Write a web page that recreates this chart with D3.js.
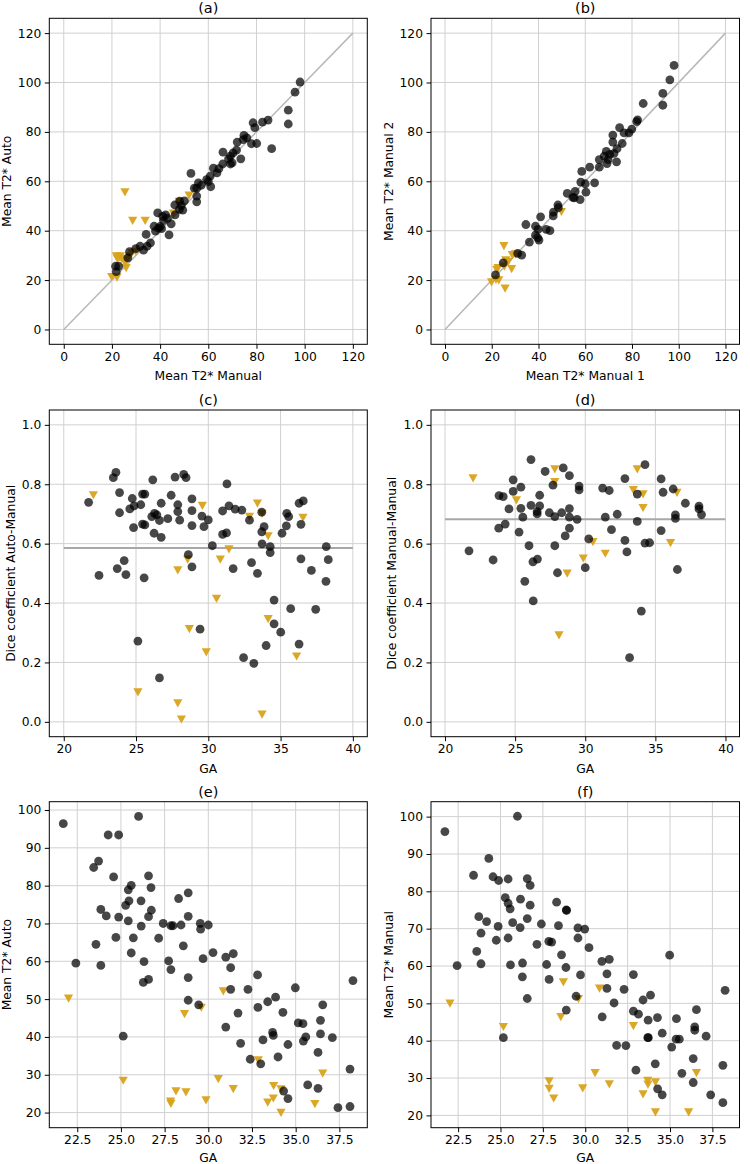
<!DOCTYPE html>
<html><head><meta charset="utf-8">
<script src="https://cdn.jsdelivr.net/npm/d3@7"></script>
<style>body{margin:0;background:#fff}svg{display:block}text{font-family:"DejaVu Sans",sans-serif;fill:#000}</style>
</head><body><svg id="c" width="750" height="1164"></svg>
<script>
// ---------- data ----------
// (a) Mean T2* Manual (x) vs Mean T2* Auto (y)
const aDots = [[98.1,100.2],[96.0,96.1],[93.2,88.8],[93.2,83.2],[86.3,73.2],[84.8,84.8],[82.5,84.0],[78.6,83.7],[79.3,81.7],[80.1,75.3],[77.9,75.2],[74.8,78.6],[76.0,77.6],[74.5,76.9],[72.0,75.9],[73.5,69.1],[71.7,72.6],[70.3,71.5],[69.2,70.2],[68.4,69.1],[69.9,67.5],[66.1,71.8],[69.2,67.0],[66.0,67.0],[64.4,65.1],[62.1,65.3],[63.6,63.4],[60.8,62.1],[59.3,60.7],[60.0,59.9],[61.0,57.8],[57.1,58.4],[55.9,59.4],[55.2,57.2],[54.2,57.2],[52.8,63.2],[55.2,51.7],[55.2,54.0],[50.1,52.1],[48.1,52.0],[46.1,50.4],[48.8,50.2],[49.4,48.3],[48.0,48.6],[46.2,46.4],[39.0,47.2],[41.1,45.8],[42.3,46.4],[43.0,45.0],[41.4,44.1],[44.6,42.8],[37.5,41.8],[39.3,41.0],[40.0,41.7],[40.6,40.8],[38.1,39.8],[34.2,38.5],[43.7,38.3],[36.0,35.1],[34.6,33.7],[31.7,33.7],[33.1,32.1],[27.3,31.5],[22.8,25.6],[21.5,25.6],[21.8,23.4],[26.6,29.0],[29.9,32.7]];
const aTris = [[25.4,55.6],[28.6,44.1],[33.8,44.1],[52.0,54.3],[47.9,51.8],[45.5,47.0],[29.8,31.6],[28.3,31.0],[23.2,29.3],[22.3,28.6],[24.1,28.6],[25.5,27.0],[25.9,25.0],[19.9,21.3],[22.1,21.1],[23.4,29.7],[21.8,29.7],[27.2,29.7],[25.8,28.3]];
// (b) Mean T2* Manual 1 (x) vs Mean T2* Manual 2 (y)
const bDots = [[98.0,106.9],[96.2,101.1],[93.2,95.6],[93.2,90.8],[84.8,91.5],[82.4,84.9],[82.0,84.2],[79.9,81.1],[74.7,81.7],[78.7,79.6],[76.6,79.6],[71.8,78.7],[75.8,75.3],[71.8,75.9],[73.6,73.2],[72.3,71.3],[69.0,72.1],[70.5,70.9],[68.1,70.2],[69.8,68.8],[73.4,67.9],[69.3,67.2],[66.0,68.8],[66.0,65.7],[61.9,65.7],[58.5,64.0],[64.0,59.4],[58.1,59.7],[60.0,59.0],[60.3,55.6],[52.3,55.1],[55.7,55.9],[54.7,53.5],[55.3,53.3],[57.8,52.6],[48.3,50.4],[48.5,49.3],[46.3,46.0],[46.4,47.5],[40.9,45.6],[34.6,42.5],[38.7,41.8],[39.8,40.5],[43.3,40.5],[44.9,40.0],[38.7,38.2],[39.7,37.1],[40.2,36.2],[36.1,35.4],[31.1,30.8],[32.8,30.1],[21.6,22.1],[24.9,27.0]];
const bTris = [[49.8,47.7],[25.2,33.9],[28.8,30.2],[30.2,30.5],[26.0,28.1],[27.1,27.5],[28.5,24.6],[22.7,25.0],[22.1,24.3],[19.9,19.2],[23.0,20.0],[21.8,20.2],[25.7,16.7],[25.4,25.6]];
// (c) GA (x) vs Dice coefficient Auto-Manual (y)
const cDots = [[21.72,0.739],[22.44,0.493],[23.43,0.822],[23.61,0.840],[23.86,0.772],[23.86,0.704],[23.70,0.516],[24.18,0.543],[24.30,0.496],[24.57,0.717],[24.74,0.752],[24.87,0.727],[24.83,0.654],[25.33,0.731],[25.45,0.767],[25.61,0.767],[25.45,0.666],[25.61,0.663],[25.56,0.485],[25.13,0.272],[26.16,0.815],[26.09,0.691],[26.28,0.702],[26.44,0.697],[26.25,0.635],[26.62,0.678],[26.74,0.736],[26.74,0.621],[26.62,0.148],[27.20,0.684],[27.43,0.763],[27.70,0.824],[27.89,0.731],[27.89,0.708],[28.02,0.679],[28.30,0.833],[28.46,0.822],[28.62,0.563],[28.87,0.751],[28.87,0.711],[28.87,0.661],[28.87,0.522],[29.43,0.312],[29.56,0.693],[29.70,0.657],[30.00,0.680],[30.28,0.593],[30.99,0.710],[30.99,0.631],[31.26,0.636],[31.29,0.801],[31.43,0.727],[31.72,0.516],[31.86,0.716],[32.32,0.713],[32.85,0.679],[32.99,0.536],[32.44,0.216],[33.15,0.197],[33.40,0.500],[33.70,0.706],[33.70,0.640],[33.72,0.599],[33.86,0.657],[34.28,0.590],[34.28,0.570],[34.00,0.257],[34.55,0.410],[34.55,0.330],[35.01,0.302],[35.10,0.635],[35.43,0.702],[35.56,0.691],[35.40,0.660],[35.70,0.381],[36.28,0.736],[36.41,0.549],[36.41,0.665],[36.57,0.744],[36.28,0.262],[37.13,0.510],[37.43,0.379],[38.16,0.590],[38.30,0.546],[38.14,0.473]];
const cTris = [[22.05,0.764],[29.59,0.728],[32.85,0.691],[33.40,0.736],[33.72,0.701],[34.14,0.626],[36.55,0.688],[31.43,0.582],[28.57,0.547],[30.83,0.547],[27.89,0.511],[30.57,0.415],[28.69,0.313],[34.14,0.347],[29.86,0.235],[36.11,0.221],[25.13,0.100],[27.89,0.063],[28.14,0.009],[33.72,0.025]];
const cMean = 0.585;
// (d) GA (x) vs Dice coefficient Manual-Manual (y)
const dDots = [[21.71,0.576],[23.43,0.545],[23.85,0.762],[24.15,0.758],[23.83,0.652],[24.29,0.666],[24.56,0.717],[24.86,0.815],[24.86,0.776],[25.41,0.790],[25.41,0.719],[25.55,0.689],[25.28,0.639],[25.69,0.473],[26.13,0.883],[26.13,0.729],[25.99,0.593],[26.27,0.539],[26.29,0.407],[26.57,0.708],[26.57,0.700],[26.75,0.763],[26.75,0.727],[26.59,0.548],[27.14,0.843],[27.44,0.704],[27.70,0.797],[27.83,0.691],[27.83,0.593],[28.02,0.502],[28.43,0.855],[28.32,0.704],[28.57,0.626],[28.87,0.829],[28.87,0.718],[28.87,0.689],[28.87,0.652],[29.56,0.794],[29.56,0.781],[29.42,0.682],[30.25,0.616],[30.00,0.519],[31.24,0.787],[31.43,0.689],[31.71,0.779],[31.87,0.647],[32.28,0.699],[32.83,0.819],[32.83,0.611],[32.97,0.572],[33.16,0.216],[33.71,0.767],[33.71,0.675],[34.26,0.866],[34.00,0.373],[34.26,0.602],[34.59,0.603],[35.41,0.818],[35.55,0.773],[35.41,0.644],[36.27,0.784],[36.43,0.697],[36.43,0.685],[36.57,0.513],[37.14,0.736],[38.11,0.726],[38.11,0.717],[38.29,0.698]];
const dTris = [[22.00,0.821],[25.09,0.747],[27.83,0.851],[27.83,0.808],[28.71,0.500],[28.13,0.292],[29.86,0.551],[30.55,0.606],[31.43,0.567],[33.43,0.781],[33.71,0.851],[34.12,0.767],[34.12,0.721],[36.08,0.603],[36.54,0.772]];
const dMean = 0.682;
// (e) GA (x) vs Mean T2* Auto (y)
const eDots = [[21.7,96.4],[22.42,59.5],[26.01,98.3],[24.27,93.4],[24.87,93.4],[23.72,86.5],[23.44,84.8],[24.58,82.3],[26.58,82.6],[25.59,80.1],[25.42,78.9],[26.72,79.5],[28.85,78.1],[28.3,76.6],[26.15,76.0],[25.46,76.0],[25.27,74.8],[23.85,73.7],[26.74,73.5],[24.16,72.0],[24.87,71.7],[26.58,71.8],[28.85,71.9],[25.42,70.7],[27.42,70.0],[26.16,69.3],[27.86,69.4],[27.98,69.4],[28.44,69.6],[29.54,70.0],[30.0,69.6],[29.56,68.5],[24.71,66.3],[25.71,66.2],[27.16,66.1],[28.57,64.1],[23.57,64.5],[30.27,62.3],[31.43,62.0],[31.0,61.1],[25.59,62.2],[29.7,60.7],[27.73,60.1],[26.32,59.9],[23.85,58.9],[27.86,57.8],[31.28,58.3],[28.85,55.7],[26.58,55.2],[26.28,54.4],[32.82,56.4],[38.28,54.9],[34.98,53.0],[31.28,52.6],[32.27,52.6],[33.85,50.5],[33.4,49.3],[28.85,49.7],[29.45,48.5],[36.55,48.5],[32.84,47.8],[34.27,46.5],[31.7,46.3],[36.42,44.4],[35.15,43.7],[35.42,43.5],[31.0,42.6],[33.68,41.2],[33.72,40.4],[36.42,40.8],[25.13,40.2],[37.1,39.8],[35.58,40.0],[35.44,38.9],[31.85,38.3],[34.56,38.0],[33.13,39.2],[33.99,34.7],[32.4,34.1],[33.0,32.9],[36.28,35.9],[38.11,31.5],[35.69,27.3],[36.28,26.4],[34.31,25.7],[34.56,23.7],[37.42,21.3],[38.11,21.6]];
const eTris = [[22.0,50.2],[25.13,28.5],[28.15,25.7],[28.72,25.4],[27.84,23.0],[27.86,22.4],[28.64,46.1],[29.6,47.8],[30.86,52.1],[30.57,28.9],[29.87,23.3],[31.43,26.3],[32.86,33.9],[33.4,22.7],[33.74,27.1],[33.72,23.8],[34.16,26.2],[34.16,20.0],[36.1,22.3],[36.55,30.4]];
// (f) GA (x) vs Mean T2* Manual (y)
const fDots = [[21.72,96.0],[22.44,60.1],[26.0,100.1],[24.31,88.8],[23.41,84.3],[24.56,83.9],[24.89,82.9],[25.45,83.3],[26.58,83.4],[26.75,81.6],[25.28,78.3],[26.18,77.9],[25.45,76.8],[25.57,75.3],[26.75,76.3],[28.31,77.1],[28.88,75.0],[28.9,74.9],[23.72,73.2],[24.18,71.9],[26.58,72.7],[25.72,71.6],[27.41,71.25],[28.42,70.8],[24.86,70.6],[26.16,70.3],[23.85,68.8],[29.57,70.2],[29.97,69.9],[29.57,67.5],[25.45,67.5],[24.75,66.9],[27.85,66.6],[28.02,66.4],[27.15,65.8],[30.22,64.9],[23.6,63.9],[28.6,63.0],[23.85,60.6],[25.59,60.3],[26.3,60.8],[27.72,60.4],[28.86,59.6],[30.98,61.25],[31.42,61.8],[34.98,62.9],[29.72,57.6],[26.29,57.1],[27.87,56.4],[31.28,57.9],[32.84,57.7],[31.28,54.0],[32.29,53.75],[38.25,53.5],[29.46,51.9],[26.58,51.3],[33.41,50.9],[33.85,52.2],[31.7,50.1],[28.88,48.2],[32.84,47.9],[33.14,47.1],[36.56,48.3],[31.0,46.4],[33.71,45.5],[34.26,46.2],[35.38,45.9],[36.46,43.7],[36.46,42.8],[34.54,42.0],[37.13,41.2],[33.69,40.8],[33.72,40.8],[35.36,40.4],[35.55,40.4],[25.17,40.8],[31.85,38.75],[32.4,38.7],[35.1,38.3],[36.37,35.2],[34.13,33.8],[38.12,33.4],[32.99,32.1],[35.7,31.25],[36.37,28.8],[34.27,27.1],[34.54,25.5],[37.4,25.5],[38.12,23.4]];
const fTris = [[22.02,50.0],[25.17,43.75],[28.71,55.7],[28.56,46.4],[29.6,51.25],[30.84,54.0],[32.84,44.0],[30.58,31.4],[29.85,27.3],[27.87,29.2],[27.87,27.2],[28.14,24.6],[31.42,28.4],[33.41,25.7],[33.69,29.3],[33.7,28.3],[34.14,28.9],[34.14,20.9],[36.1,20.9],[36.56,31.4]];

// tick labels
const t2Ticks = [0,20,40,60,80,100,120];
const gaTicksCD = [20,25,30,35,40];
const diceTicks = [0.0,0.2,0.4,0.6,0.8,1.0];
const gaTicksEF = [22.5,25.0,27.5,30.0,32.5,35.0,37.5];
const t2TicksEF = [20,30,40,50,60,70,80,90,100];

// ---------- drawing ----------
const svg = d3.select("#c");
const FS = 12.3;
const TRI = "#D9A21B";

function panel(o){
  const x = d3.scaleLinear().domain(o.xd).range([o.l,o.r]);
  const y = d3.scaleLinear().domain(o.yd).range([o.b,o.t]);
  const g = svg.append("g");
  // grid
  g.selectAll(".gx").data(o.xt).join("line")
    .attr("x1",d=>x(d)).attr("x2",d=>x(d)).attr("y1",o.t).attr("y2",o.b)
    .attr("stroke","#d0d0d0").attr("stroke-width",1);
  g.selectAll(".gy").data(o.yt).join("line")
    .attr("y1",d=>y(d)).attr("y2",d=>y(d)).attr("x1",o.l).attr("x2",o.r)
    .attr("stroke","#d0d0d0").attr("stroke-width",1);
  // reference lines
  if(o.diag){
    g.append("line").attr("x1",x(0)).attr("y1",y(0)).attr("x2",x(120)).attr("y2",y(120))
      .attr("stroke","#b8b8b8").attr("stroke-width",1.5);
  }
  if(o.mean!==undefined){
    g.append("line").attr("x1",x(20)).attr("x2",x(40)).attr("y1",y(o.mean)).attr("y2",y(o.mean))
      .attr("stroke","#a8a8a8").attr("stroke-width",2);
  }
  // triangles
  const tri = "M-4.6,-3.8L4.6,-3.8L0,4.4Z";
  g.selectAll(".tri").data(o.tris).join("path")
    .attr("d",tri).attr("transform",d=>`translate(${x(d[0])},${y(d[1])})`)
    .attr("fill",TRI).attr("fill-opacity",0.95);
  // dots
  g.selectAll(".dot").data(o.dots).join("circle")
    .attr("cx",d=>x(d[0])).attr("cy",d=>y(d[1])).attr("r",4.4)
    .attr("fill","#000").attr("fill-opacity",0.72);
  // frame
  g.append("rect").attr("x",o.l).attr("y",o.t).attr("width",o.r-o.l).attr("height",o.b-o.t)
    .attr("fill","none").attr("stroke","#000").attr("stroke-width",1);
  // axes
  const xa = g.append("g").attr("transform",`translate(0,${o.b})`)
    .call(d3.axisBottom(x).tickValues(o.xt).tickFormat(o.xf).tickSize(4.5).tickPadding(3.5));
  const ya = g.append("g").attr("transform",`translate(${o.l},0)`)
    .call(d3.axisLeft(y).tickValues(o.yt).tickFormat(o.yf).tickSize(4.5).tickPadding(3.5));
  [xa,ya].forEach(a=>{
    a.select(".domain").remove();
    a.selectAll("text").attr("font-size",FS).attr("font-family","DejaVu Sans");
    a.selectAll("line").attr("stroke","#000");
  });
  // title
  g.append("text").attr("x",(o.l+o.r)/2).attr("y",o.t-5).attr("text-anchor","middle")
    .attr("font-size",14.5).text(o.title);
  // x label
  g.append("text").attr("x",(o.l+o.r)/2).attr("y",o.b+(o.xlOff||36)).attr("text-anchor","middle")
    .attr("font-size",FS).text(o.xl);
  // y label
  const bb = ya.node().getBBox();
  const lx = bb.x + o.l - 7;
  g.append("text").attr("transform",`translate(${lx},${(o.t+o.b)/2}) rotate(-90)`)
    .attr("text-anchor","middle").attr("font-size",FS).text(o.yl);
}

const f0 = d3.format("d"), f1 = d3.format(".1f");
const colL = {l:49.3, r:367.3}, colR = {l:431, r:739.5};
panel({...colL, t:18.3, b:344.3, xd:[-6,126], yd:[-6,126], xt:t2Ticks, yt:t2Ticks, xf:f0, yf:f0,
  dots:aDots, tris:aTris, diag:true, title:"(a)", xl:"Mean T2* Manual", yl:"Mean T2* Auto"});
panel({...colR, t:18.3, b:344.3, xd:[-6,126], yd:[-6,126], xt:t2Ticks, yt:t2Ticks, xf:f0, yf:f0,
  dots:bDots, tris:bTris, diag:true, title:"(b)", xl:"Mean T2* Manual 1", yl:"Mean T2* Manual 2"});
panel({...colL, t:410, b:736.7, xd:[19,41], yd:[-0.05,1.05], xt:gaTicksCD, yt:diceTicks, xf:f0, yf:f1,
  dots:cDots, tris:cTris, mean:cMean, title:"(c)", xl:"GA", yl:"Dice coefficient Auto-Manual"});
panel({...colR, t:410, b:736.7, xd:[19,41], yd:[-0.05,1.05], xt:gaTicksCD, yt:diceTicks, xf:f0, yf:f1,
  dots:dDots, tris:dTris, mean:dMean, title:"(d)", xl:"GA", yl:"Dice coefficient Manual-Manual"});
panel({...colL, t:801.7, b:1127.7, xd:[20.9,39.1], yd:[16.0,102.2], xt:gaTicksEF, yt:t2TicksEF, xf:f1, yf:f0,
  dots:eDots, tris:eTris, title:"(e)", xl:"GA", yl:"Mean T2* Auto", xlOff:34.5});
panel({...colR, t:801.7, b:1127.7, xd:[20.9,39.1], yd:[16.7,104], xt:gaTicksEF, yt:t2TicksEF, xf:f1, yf:f0,
  dots:fDots, tris:fTris, title:"(f)", xl:"GA", yl:"Mean T2* Manual", xlOff:34.5});
</script></body></html>
